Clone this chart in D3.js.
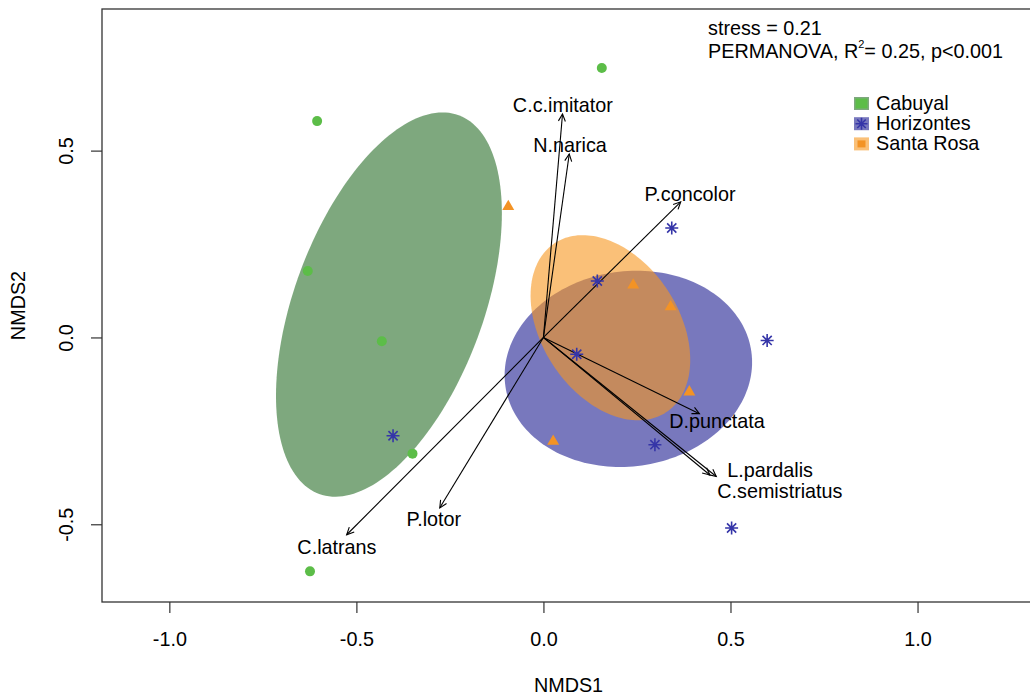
<!DOCTYPE html>
<html>
<head>
<meta charset="utf-8">
<script src="https://cdnjs.cloudflare.com/ajax/libs/d3/7.8.5/d3.min.js"></script>
<style>
  body { margin: 0; background: #fff; }
  svg text { font-family: "Liberation Sans", Arial, sans-serif; fill: #000; }
</style>
</head>
<body>
<div class="chart"></div>
<script>
// sites per group, NMDS1 / NMDS2
const groups = ['Cabuyal', 'Horizontes', 'Santa Rosa'];
const cabuyal = [[0.156, 0.721], [-0.605, 0.579], [-0.630, 0.178], [-0.432, -0.010], [-0.350, -0.311], [-0.624, -0.626]];
const horizontes = [[0.343, 0.293], [0.144, 0.151], [0.598, -0.008], [0.089, -0.045], [-0.402, -0.263], [0.298, -0.287], [0.503, -0.510]];
const santaRosa = [[-0.094, 0.350], [0.240, 0.140], [0.340, 0.082], [0.390, -0.146], [0.026, -0.278]];

// group ellipses: centre, semi axes, rotation (deg)
const ellipseCentres = [[-0.413, 0.088], [0.227, -0.084], [0.179, 0.026]];
const ellipseAxes = [[0.540, 0.253], [0.332, 0.261], [0.271, 0.183]];
const ellipseAngles = [69.8, 8, -56.7];

// species vectors (envfit)
const species = ['C.c.imitator', 'N.narica', 'P.concolor', 'D.punctata', 'L.pardalis', 'C.semistriatus', 'P.lotor', 'C.latrans'];
const arrowTips = [[0.051, 0.598], [0.069, 0.491], [0.367, 0.363], [0.417, -0.204], [0.445, -0.368], [0.462, -0.372], [-0.277, -0.456], [-0.526, -0.528]];
const labelSpots = [[0.052, 0.622], [0.071, 0.514], [0.392, 0.385], [0.464, -0.225], [0.606, -0.356], [0.632, -0.410], [-0.293, -0.485], [-0.552, -0.560]];

const xTicks = [-1.0, -0.5, 0.0, 0.5, 1.0];
const yTicks = [-0.5, 0.0, 0.5];

const margin = { top: 9, right: 0, bottom: 93, left: 102 };
const outerWidth = 1030;
const outerHeight = 695;
const innerWidth = 933;
const innerHeight = outerHeight - margin.top - margin.bottom;
const fontSize = '19.8px';

const fills = ['rgba(40,110,40,0.6)', 'rgba(30,30,145,0.6)', 'rgba(247,150,30,0.6)'];
const pointCols = ['#5cbd48', '#3535a8', '#f39325'];

const svg = d3.select('.chart')
  .append('svg')
    .attr('width', outerWidth)
    .attr('height', outerHeight);

const chartG = svg.append('g')
  .attr('transform', `translate(${margin.left}, ${margin.top})`);

const x = d3.scaleLinear().domain([-1.18, 1.314]).range([0, innerWidth]);
const y = d3.scaleLinear().domain([-0.708, 0.879]).range([innerHeight, 0]);

// ellipses
const line = d3.line().curve(d3.curveLinearClosed);
ellipseCentres.forEach((c, i) => {
  const th = ellipseAngles[i] * Math.PI / 180;
  const [a, b] = ellipseAxes[i];
  const pts = d3.range(0, 2 * Math.PI, Math.PI / 90).map(t => [
    x(c[0] + a * Math.cos(th) * Math.cos(t) - b * Math.sin(th) * Math.sin(t)),
    y(c[1] + a * Math.sin(th) * Math.cos(t) + b * Math.cos(th) * Math.sin(t))
  ]);
  chartG.append('path').attr('d', line(pts)).attr('fill', fills[i]);
});

// arrows
const x0 = x(0), y0 = y(0);
arrowTips.forEach((d, i) => {
  const tx = x(d[0]), ty = y(d[1]);
  const ang = Math.atan2(ty - y0, tx - x0);
  const hl = 8, ha = 0.45;
  chartG.append('line')
    .attr('x1', x0).attr('y1', y0).attr('x2', tx).attr('y2', ty)
    .attr('stroke', '#000').attr('stroke-width', 1.1);
  chartG.append('path')
    .attr('d', `M${tx - hl * Math.cos(ang - ha)},${ty - hl * Math.sin(ang - ha)}L${tx},${ty}L${tx - hl * Math.cos(ang + ha)},${ty - hl * Math.sin(ang + ha)}`)
    .attr('fill', 'none').attr('stroke', '#000').attr('stroke-width', 1.1);
  chartG.append('text')
    .attr('x', x(labelSpots[i][0])).attr('y', y(labelSpots[i][1]))
    .attr('dy', '0.35em').attr('text-anchor', 'middle')
    .style('font-size', fontSize)
    .text(species[i]);
});

// point symbols
function asterisk(r) {
  const q = r * Math.SQRT1_2;
  return `M${-r},0L${r},0M0,${-r}L0,${r}M${-q},${-q}L${q},${q}M${-q},${q}L${q},${-q}`;
}
const tri = d3.symbol().type(d3.symbolTriangle).size(62)();

chartG.selectAll('.cab').data(cabuyal).join('circle')
  .attr('cx', d => x(d[0])).attr('cy', d => y(d[1])).attr('r', 5)
  .attr('fill', pointCols[0]);

chartG.selectAll('.hor').data(horizontes).join('path')
  .attr('transform', d => `translate(${x(d[0])},${y(d[1])})`)
  .attr('d', asterisk(6.5))
  .attr('stroke', pointCols[1]).attr('stroke-width', 1.6).attr('fill', 'none');

chartG.selectAll('.sr').data(santaRosa).join('path')
  .attr('transform', d => `translate(${x(d[0])},${y(d[1])})`)
  .attr('d', tri)
  .attr('fill', pointCols[2]);

// axes
const xAxis = chartG.append('g')
  .attr('transform', `translate(0, ${innerHeight})`)
  .call(d3.axisBottom(x).tickValues(xTicks).tickFormat(d => d.toFixed(1)).tickSize(11).tickPadding(18.5));
const yAxis = chartG.append('g')
  .call(d3.axisLeft(y).tickValues(yTicks).tickFormat(d => d.toFixed(1)).tickSize(11));
[xAxis, yAxis].forEach(g => {
  g.select('.domain').remove();
  g.selectAll('line').attr('stroke', '#333').attr('stroke-width', 1.2);
  g.selectAll('text').style('font-size', fontSize).attr('fill', '#000')
    .style('font-family', '"Liberation Sans", Arial, sans-serif');
});
yAxis.selectAll('text')
  .attr('transform', 'rotate(-90)')
  .attr('x', 0).attr('y', -29.3).attr('dy', 0)
  .attr('text-anchor', 'middle');

// frame
chartG.append('rect')
  .attr('x', 0).attr('y', 0).attr('width', innerWidth).attr('height', innerHeight)
  .attr('fill', 'none').attr('stroke', '#333').attr('stroke-width', 1.3);

// axis titles
svg.append('text')
  .attr('x', margin.left + innerWidth / 2).attr('y', 691.5)
  .attr('text-anchor', 'middle').style('font-size', fontSize)
  .text('NMDS1');
svg.append('text')
  .attr('transform', `translate(25, ${margin.top + innerHeight / 2}) rotate(-90)`)
  .attr('text-anchor', 'middle').style('font-size', fontSize)
  .text('NMDS2');

// stats
svg.append('text')
  .attr('x', 708).attr('y', 35).style('font-size', fontSize)
  .text('stress = 0.21');
const perm = svg.append('text')
  .attr('x', 708).attr('y', 58).style('font-size', fontSize);
perm.append('tspan').text('PERMANOVA, R');
perm.append('tspan').attr('dy', -10).style('font-size', '11px').text('2');
perm.append('tspan').attr('dy', 10).text('= 0.25, p<0.001');

// legend
const legend = svg.append('g').attr('transform', 'translate(854, 103.5)');
groups.forEach((g, i) => {
  const row = legend.append('g').attr('transform', `translate(0, ${i * 20.2})`);
  row.append('rect')
    .attr('x', 0).attr('y', -6.5).attr('width', 15).attr('height', 13)
    .attr('fill', fills[i]);
  if (i === 0) {
    row.append('rect').attr('x', 1.5).attr('y', -5).attr('width', 12).attr('height', 10).attr('fill', pointCols[0]);
  } else if (i === 1) {
    row.append('path').attr('transform', 'translate(7.5,0)').attr('d', asterisk(6))
      .attr('stroke', pointCols[1]).attr('stroke-width', 1.6).attr('fill', 'none');
  } else {
    row.append('rect').attr('x', 3.5).attr('y', -3.5).attr('width', 8).attr('height', 7).attr('fill', pointCols[2]);
  }
  row.append('text')
    .attr('x', 22).attr('y', 6.3).style('font-size', fontSize)
    .text(g);
});
</script>
</body>
</html>
